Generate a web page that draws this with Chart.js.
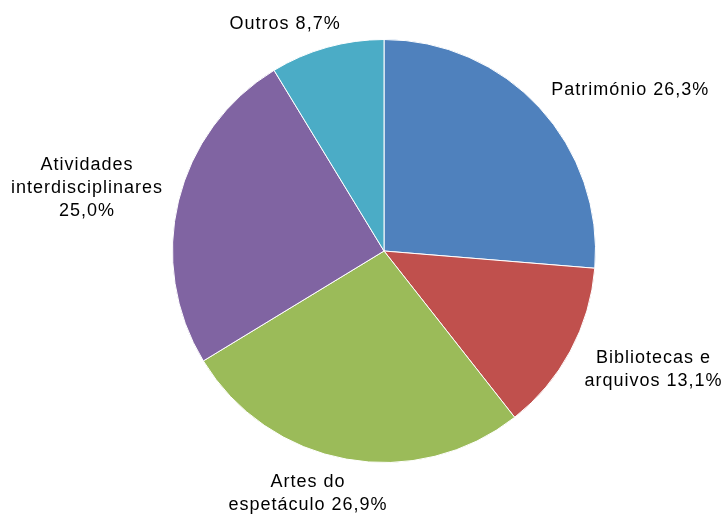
<!DOCTYPE html>
<html lang="pt">
<head>
<meta charset="utf-8">
<title>Distribuição por área</title>
<script src="https://cdn.jsdelivr.net/npm/chart.js@4"></script>
<style>
  html, body { margin: 0; padding: 0; background: #fff; }
  #wrap { width: 727px; height: 516px; }
</style>
</head>
<body>
<div id="wrap"><canvas id="pieChart" width="727" height="516"></canvas></div>
<script>
'use strict';

// --- DADOS ---
const categorias = [
    ['Património'],
    ['Bibliotecas e', 'arquivos'],
    ['Artes do', 'espetáculo'],
    ['Atividades', 'interdisciplinares', ''],
    ['Outros']
];
const percentagens = [26.3, 13.1, 26.9, 25.0, 8.7];
const cores = ['#4F81BD', '#C0504D', '#9BBB59', '#8064A2', '#4BACC6'];

const fmtPct = (v) => v.toFixed(1).replace('.', ',') + '%';

// linhas do rótulo: o valor junta-se à última linha (ou fica numa linha própria)
function linhasRotulo(i) {
    const linhas = categorias[i].slice();
    const ult = linhas.length - 1;
    linhas[ult] = linhas[ult] ? linhas[ult] + ' ' + fmtPct(percentagens[i]) : fmtPct(percentagens[i]);
    return linhas;
}

// --- RÓTULOS EXTERIORES ---
const rotulosExteriores = {
    id: 'rotulosExteriores',
    afterDatasetsDraw(chart) {
        const ctx = chart.ctx;
        const meta = chart.getDatasetMeta(0);
        const fontSize = 18, lineH = 23;
        ctx.save();
        ctx.font = fontSize + 'px "Liberation Sans", Arial, sans-serif';
        ctx.letterSpacing = '1px';
        ctx.fillStyle = '#000';
        ctx.textAlign = 'center';
        ctx.textBaseline = 'middle';
        const clamp = (v) => Math.max(-1, Math.min(1, v));
        meta.data.forEach((arc, i) => {
            const p = arc.getProps(['x', 'y', 'startAngle', 'endAngle', 'outerRadius'], true);
            const mid = (p.startAngle + p.endAngle) / 2;
            const dx = Math.cos(mid), dy = Math.sin(mid);
            const linhas = linhasRotulo(i);
            const halfW = Math.max(...linhas.map(l => ctx.measureText(l).width)) / 2;
            const halfH = linhas.length * lineH / 2;
            const cx = p.x + dx * (p.outerRadius + 16) + halfW * clamp(2.5 * dx);
            const cy = p.y + dy * (p.outerRadius + 12) + halfH * clamp(1.2 * dy);
            linhas.forEach((l, k) => {
                ctx.fillText(l, cx, cy - halfH + lineH * (k + 0.5));
            });
        });
        ctx.restore();
    }
};

new Chart(document.getElementById('pieChart'), {
    type: 'pie',
    data: {
        labels: categorias.map(c => c.join(' ').trim()),
        datasets: [{
            data: percentagens,
            backgroundColor: cores,
            borderColor: '#ffffff',
            borderWidth: 1
        }]
    },
    options: {
        responsive: false,
        animation: false,
        layout: { padding: { left: 172, right: 131, top: 39, bottom: 53 } },
        plugins: {
            legend: { display: false },
            tooltip: { enabled: false }
        }
    },
    plugins: [rotulosExteriores]
});
</script>
</body>
</html>
